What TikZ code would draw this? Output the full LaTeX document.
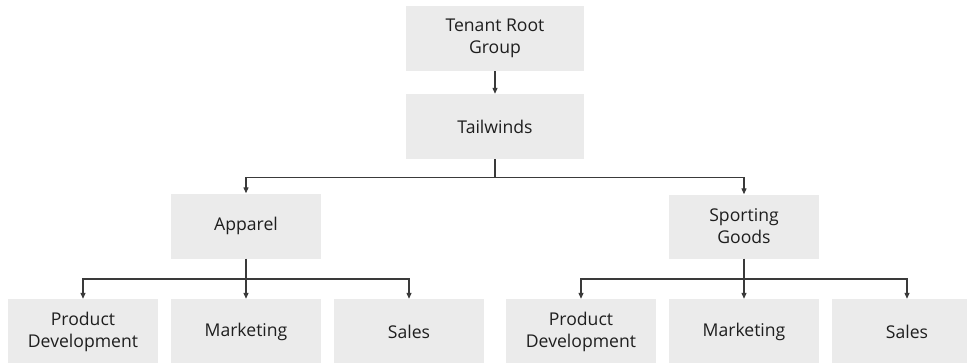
\documentclass[tikz,border=0pt]{standalone}
\usepackage{fontspec}
\setmainfont{Open Sans}
\usepackage{tikz}
\usetikzlibrary{arrows.meta}
\definecolor{boxgray}{HTML}{EBEBEB}
\definecolor{linegray}{HTML}{3A3A3A}
\definecolor{txtgray}{HTML}{1E1E1E}
\tikzset{
  orgbox/.style={fill=boxgray, text=txtgray, align=center, inner sep=0pt,
    minimum width=150, minimum height=65, font=\fontsize{17.6}{22}\selectfont},
  topbox/.style={orgbox, minimum width=178},
  link/.style={draw=linegray, line width=1.2pt},
  arr/.style={link, -{Triangle[length=6pt,width=5pt]}}
}

\begin{document}
\begin{tikzpicture}[x=1pt,y=-1pt]
\useasboundingbox (0,0) rectangle (967,362);
\node[topbox] (root) at (495,38.5) {Tenant Root\\Group};
\node[topbox] (tail) at (495,126.5) {Tailwinds};
\node[orgbox] (app) at (246,226) {Apparel};
\node[orgbox, minimum height=64] (sport) at (744,226.5) {Sporting\\Goods};
\node[orgbox] (apd) at (83,331.5) {Product\\Development};
\node[orgbox] (amk) at (246,331.5) {Marketing};
\node[orgbox] (asl) at (409,331.5) {Sales};
\node[orgbox] (spd) at (581,331.5) {Product\\Development};
\node[orgbox] (smk) at (744,331.5) {Marketing};
\node[orgbox] (ssl) at (907,331.5) {Sales};
\coordinate (tsplit) at (495,177.5);
\coordinate (asplit) at (246,279);
\coordinate (ssplit) at (744,279);
\draw[arr] (root) -- (tail);
\draw[link] (tail) -- (tsplit);
\draw[arr] (tsplit) -| (app);
\draw[arr] (tsplit) -| (sport);
\draw[arr] (app) -- (amk);
\draw[arr] (asplit) -| (apd);
\draw[arr] (asplit) -| (asl);
\draw[arr] (sport) -- (smk);
\draw[arr] (ssplit) -| (spd);
\draw[arr] (ssplit) -| (ssl);
\end{tikzpicture}
\end{document}
